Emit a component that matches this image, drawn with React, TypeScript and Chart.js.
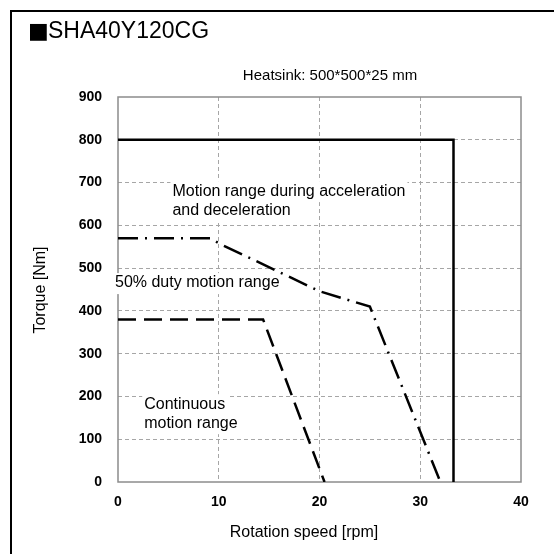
import React, { useEffect, useRef } from "react";
import { Chart, registerables } from "chart.js";

Chart.register(...registerables);

// ---- data ----
const xTicks = [0, 10, 20, 30, 40];
const yTicks = [0, 100, 200, 300, 400, 500, 600, 700, 800, 900];

const accelSpeed = [0, 33.3, 33.3];
const accelTorque = [800, 800, 0];

const dutySpeed = [0, 9.2, 10, 20, 25, 32];
const dutyTorque = [570, 570, 558, 446, 410, 0];

const contSpeed = [0, 14.4, 20.5];
const contTorque = [380, 380, 0];

const titleText = "SHA40Y120CG";
const heatsinkText = "Heatsink: 500*500*25 mm";
const xTitle = "Rotation speed [rpm]";
const yTitle = "Torque [Nm]";
const accelLabel = ["Motion range during acceleration", "and deceleration"];
const dutyLabel = ["50% duty motion range"];
const contLabel = ["Continuous", "motion range"];

const FONT = "'Liberation Sans', Arial, sans-serif";

function toPoints(xs: number[], ys: number[]) {
  return xs.map((x, i) => ({ x, y: ys[i] }));
}

export default function App() {
  const ref = useRef<HTMLCanvasElement | null>(null);

  useEffect(() => {
    const canvas = ref.current;
    if (!canvas) return;

    const labelPlugin = {
      id: "labels",
      beforeDatasetsDraw(chart: any) {
        const ctx = chart.ctx;
        const a = chart.chartArea;
        const xs = chart.scales.x;
        const ys = chart.scales.y;
        ctx.save();
        // plot frame
        ctx.strokeStyle = "#8c8c8c";
        ctx.lineWidth = 1.5;
        ctx.setLineDash([]);
        ctx.strokeRect(a.left, a.top, a.right - a.left, a.bottom - a.top);
        // annotation labels with white background
        const drawLabel = (lines: string[], vx: number, vy: number, lh: number) => {
          ctx.font = `16px ${FONT}`;
          ctx.textBaseline = "middle";
          ctx.textAlign = "left";
          const px = xs.getPixelForValue(vx);
          const py = ys.getPixelForValue(vy);
          lines.forEach((t, i) => {
            const w = ctx.measureText(t).width;
            ctx.fillStyle = "#ffffff";
            ctx.fillRect(px - 2, py + i * lh - 10, w + 4, 21);
          });
          lines.forEach((t, i) => {
            ctx.fillStyle = "#000000";
            ctx.fillText(t, px, py + i * lh);
          });
        };
        drawLabel(accelLabel, 5.4, 680, 19);
        drawLabel(dutyLabel, -0.3, 465, 19);
        drawLabel(contLabel, 2.6, 182, 19);
        ctx.restore();
      },
      afterDraw(chart: any) {
        const ctx = chart.ctx;
        ctx.save();
        ctx.fillStyle = "#000000";
        // outer frame (left/top)
        ctx.fillRect(10, 10, 2, 544);
        ctx.fillRect(10, 10, 544, 2);
        // title
        ctx.textBaseline = "alphabetic";
        ctx.textAlign = "left";
        ctx.font = `22px 'DejaVu Sans', sans-serif`;
        ctx.fillText("■", 28, 38);
        ctx.font = `23px ${FONT}`;
        ctx.fillText(titleText, 48, 38);
        // heatsink
        ctx.font = `15px ${FONT}`;
        ctx.textAlign = "center";
        ctx.textBaseline = "middle";
        ctx.fillText(heatsinkText, 330, 76);
        // x title
        ctx.font = `16px ${FONT}`;
        ctx.fillText(xTitle, 304, 533);
        // y title
        ctx.translate(41, 290);
        ctx.rotate(-Math.PI / 2);
        ctx.fillText(yTitle, 0, 0);
        ctx.restore();
      },
    };

    const gridColor = (ctx: any, edgeVals: number[]) =>
      edgeVals.includes(ctx.tick?.value) ? "rgba(0,0,0,0)" : "#a6a6a6";

    const chart = new Chart(canvas, {
      type: "scatter",
      data: {
        datasets: [
          {
            data: toPoints(accelSpeed, accelTorque),
            showLine: true,
            borderColor: "#000000",
            borderWidth: 2.5,
            pointRadius: 0,
            borderJoinStyle: "miter",
            fill: false,
          },
          {
            data: toPoints(dutySpeed, dutyTorque),
            showLine: true,
            borderColor: "#000000",
            borderWidth: 2.5,
            pointRadius: 0,
            borderDash: [20, 7, 2, 7],
            fill: false,
          },
          {
            data: toPoints(contSpeed, contTorque),
            showLine: true,
            borderColor: "#000000",
            borderWidth: 2.5,
            pointRadius: 0,
            borderDash: [18, 8],
            fill: false,
          },
        ],
      },
      options: {
        animation: false,
        responsive: false,
        devicePixelRatio: 1,
        layout: { padding: { top: 97, right: 33, bottom: 0, left: 0 } },
        plugins: {
          legend: { display: false },
          tooltip: { enabled: false },
          title: { display: false },
        },
        scales: {
          x: {
            type: "linear",
            min: xTicks[0],
            max: xTicks[xTicks.length - 1],
            afterFit: (s: any) => {
              s.height = 72;
            },
            afterBuildTicks: (s: any) => {
              s.ticks = xTicks.map((v) => ({ value: v }));
            },
            ticks: {
              color: "#000000",
              font: { family: FONT, size: 14, weight: "bold" },
              padding: 12,
              maxRotation: 0,
            },
            grid: {
              color: (c: any) => gridColor(c, [xTicks[0], xTicks[xTicks.length - 1]]),
              lineWidth: 1,
              drawTicks: false,
            },
            border: { display: false, dash: [4, 3] },
          },
          y: {
            type: "linear",
            min: yTicks[0],
            max: yTicks[yTicks.length - 1],
            afterFit: (s: any) => {
              s.width = 118;
            },
            afterBuildTicks: (s: any) => {
              s.ticks = yTicks.map((v) => ({ value: v }));
            },
            ticks: {
              color: "#000000",
              font: { family: FONT, size: 14, weight: "bold" },
              padding: 16,
            },
            grid: {
              color: (c: any) => gridColor(c, [yTicks[0], yTicks[yTicks.length - 1]]),
              lineWidth: 1,
              drawTicks: false,
            },
            border: { display: false, dash: [4, 3] },
          },
        },
      },
      plugins: [labelPlugin],
    } as any);

    return () => chart.destroy();
  }, []);

  return (
    <div style={{ position: "absolute", left: 0, top: 0, width: 554, height: 554, background: "#ffffff" }}>
      <canvas ref={ref} width={554} height={554} style={{ display: "block" }} />
    </div>
  );
}
